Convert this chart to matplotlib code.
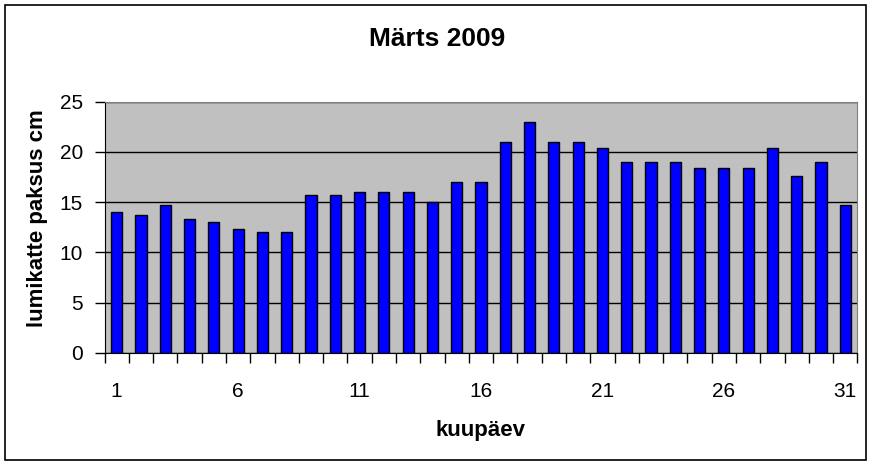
import numpy as np
import matplotlib.pyplot as plt
from matplotlib.patches import Rectangle

plt.rcParams['font.family'] = ['Liberation Sans', 'DejaVu Sans']

days = np.arange(1, 32)
depth = [14.0, 13.7, 14.7, 13.3, 13.0, 12.3, 12.0, 12.0, 15.7, 15.7,
         16.0, 16.0, 16.0, 15.0, 17.0, 17.0, 21.0, 23.0, 21.0, 21.0,
         20.4, 19.0, 19.0, 19.0, 18.4, 18.4, 18.4, 20.4, 17.6, 19.0, 14.7]
label_days = [1, 6, 11, 16, 21, 26, 31]
yticks = [0, 5, 10, 15, 20, 25]

W, H = 874, 466
fig = plt.figure(figsize=(W / 100, H / 100), dpi=100)

# plot area in pixels
left, right, top, bottom = 104.5, 857.5, 101.7, 353
ax = fig.add_axes([left / W, 1 - bottom / H, (right - left) / W, (bottom - top) / H])
ax.set_facecolor('#c0c0c0')

ax.bar(days, depth, width=0.46, color='#0000ff', edgecolor='black', linewidth=1, zorder=3)

ax.set_xlim(0.5, 31.5)
ax.set_ylim(0, 25)
ax.set_yticks(yticks)
ax.yaxis.grid(True, color='black', linewidth=1, zorder=1)
ax.tick_params(axis='y', direction='out', length=7, width=1, pad=8.5, labelsize=15)

# ticks between categories, labels under some bars
ax.set_xticks(np.arange(0.5, 32, 1))
ax.set_xticklabels([])
ax.tick_params(axis='x', which='major', direction='out', length=7, width=1)
ax.set_xticks(label_days, minor=True)
ax.set_xticklabels([str(d) for d in label_days], minor=True)
ax.tick_params(axis='x', which='minor', length=0, pad=21, labelsize=15)

for s in ['top', 'right']:
    ax.spines[s].set_color('#808080')
for s in ['left', 'bottom']:
    ax.spines[s].set_color('black')

fig.text(437 / W, 1 - 39 / H, 'Märts 2009', ha='center', va='center',
         fontsize=19, fontweight='bold')
fig.text(481 / W, 1 - 436 / H, 'kuupäev', ha='center', va='baseline',
         fontsize=16, fontweight='bold')
fig.text(38 / W, 1 - 218 / H, 'lumikatte paksus cm', ha='center', va='center',
         rotation=90, fontsize=16, fontweight='bold')

fig.patches.append(Rectangle((5 / W, 1 - 460 / H), 861 / W, 455 / H,
                             transform=fig.transFigure, fill=False,
                             edgecolor='black', linewidth=1.2))

fig.savefig('out.png', dpi=100)
